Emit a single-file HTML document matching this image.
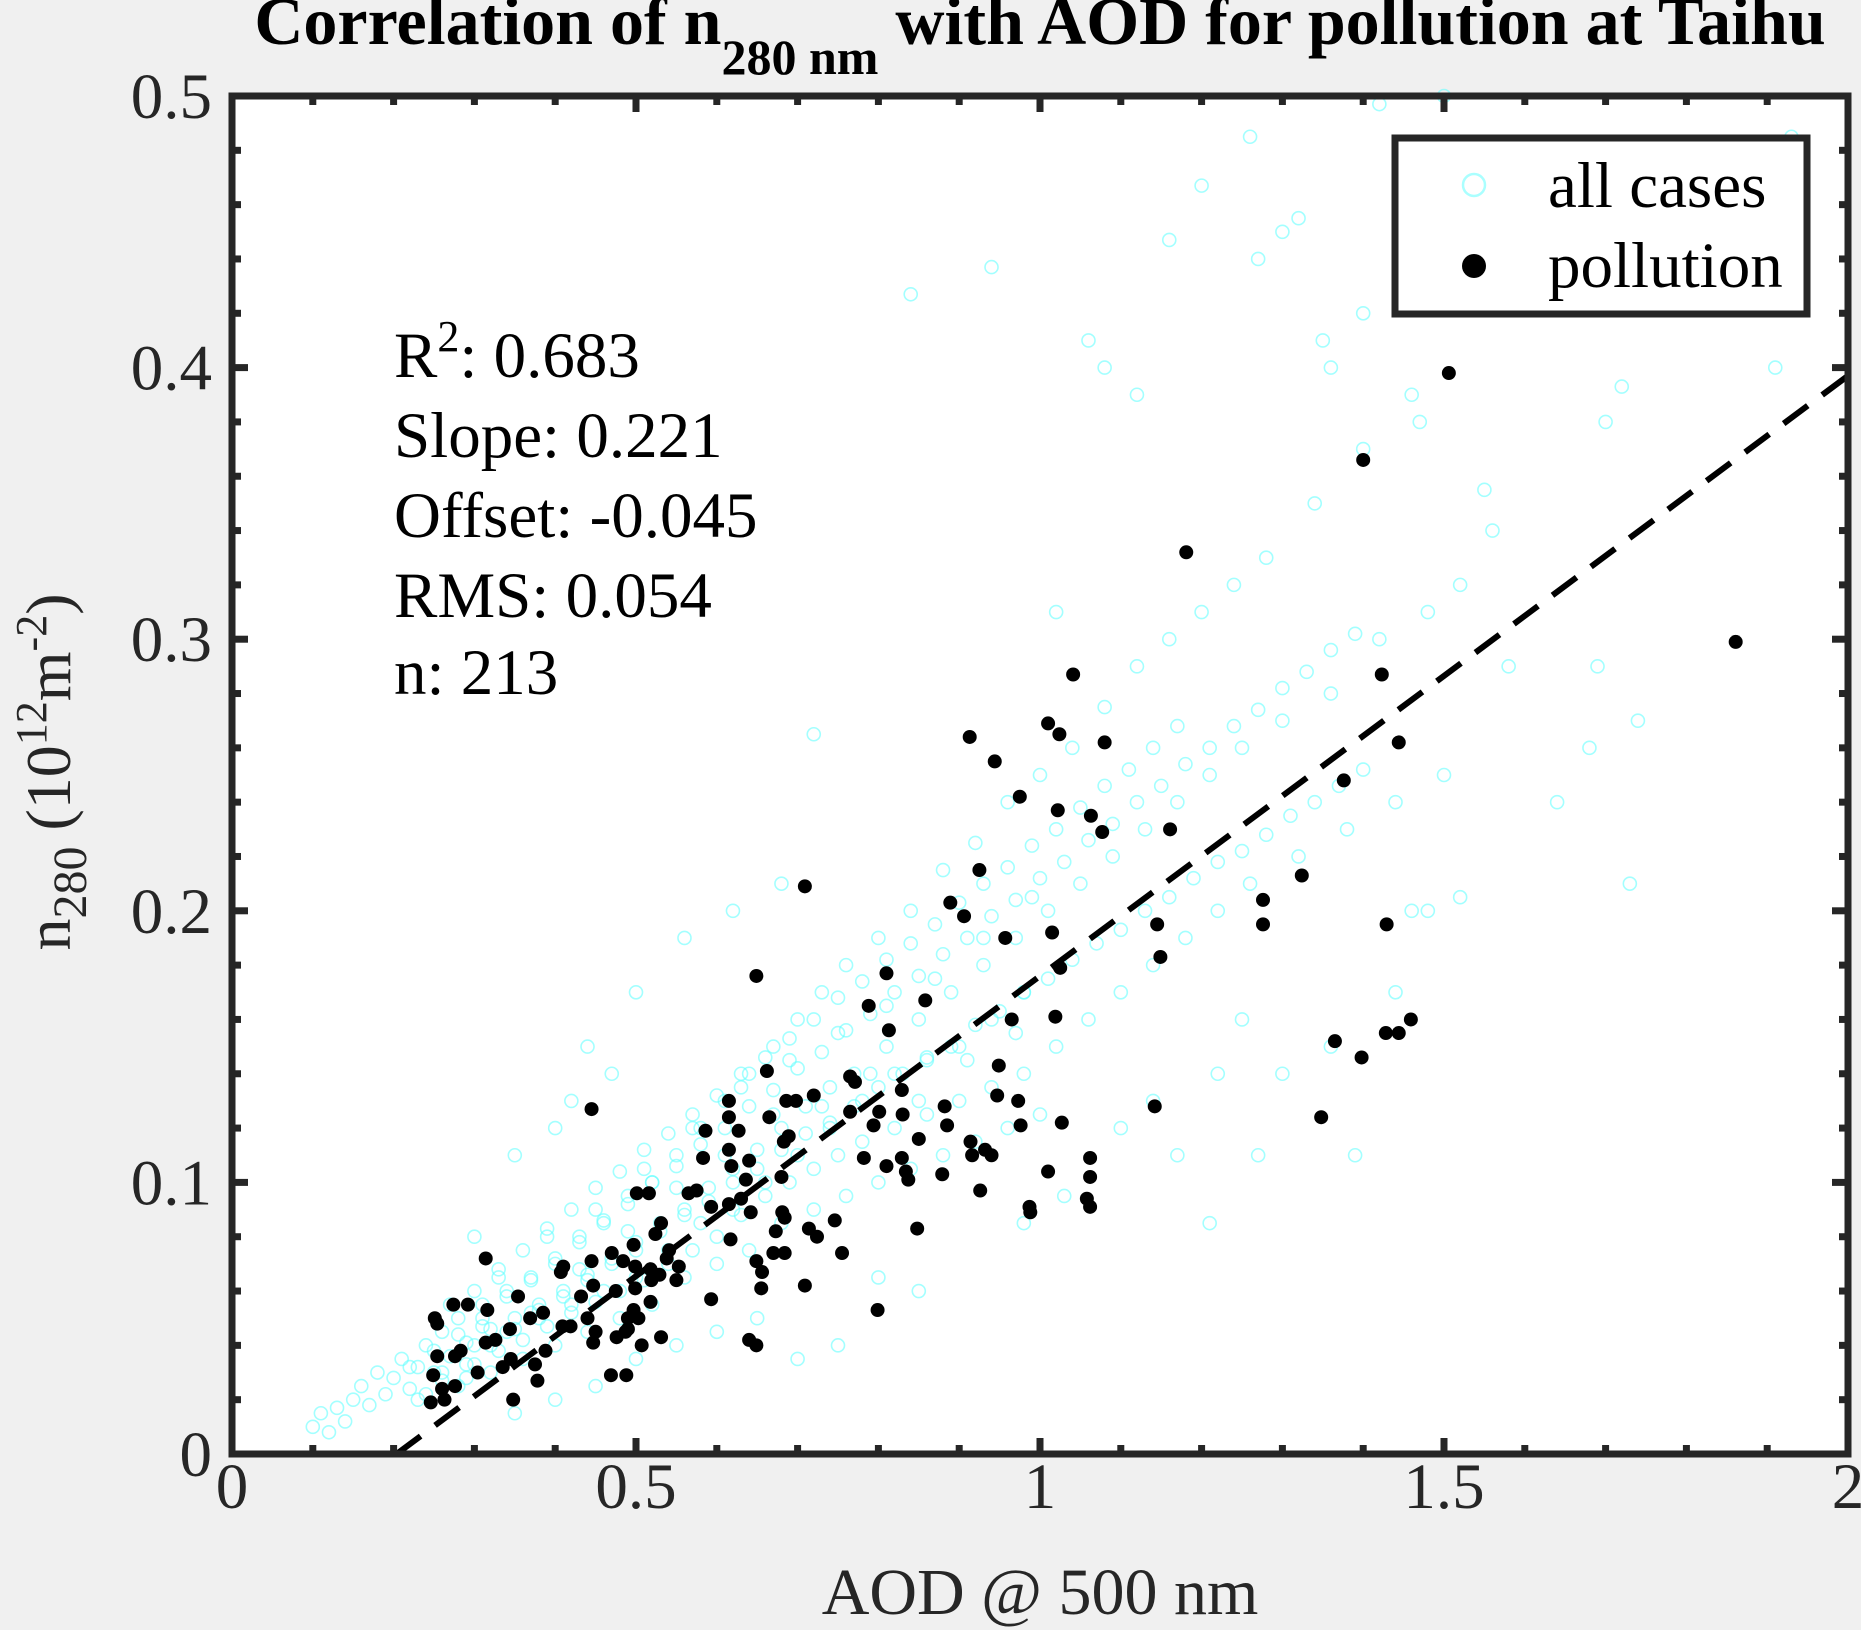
<!DOCTYPE html>
<html><head><meta charset="utf-8"><style>
html,body{margin:0;padding:0;background:#f0f0f0;}
svg{display:block;font-family:"Liberation Serif",serif;}
</style></head><body>
<svg id="chart" width="1861" height="1630" viewBox="0 0 1861 1630">
<rect x="232" y="96" width="1616" height="1358" fill="#fff"/>
<g id="cyan"></g>
<g id="black"></g>
<g id="fit"></g>
<g id="axes"></g>
<text x="1040" y="44" text-anchor="middle" font-size="68" font-weight="bold" fill="#000">Correlation of n<tspan font-size="50" dy="30">280 nm</tspan><tspan dy="-30"> with AOD for pollution at Taihu</tspan></text>
<text x="1040" y="1614" text-anchor="middle" font-size="66" fill="#262626">AOD @ 500 nm</text>
<text transform="translate(70,772) rotate(-90)" text-anchor="middle" font-size="64" fill="#262626">n<tspan font-size="48" dy="16">280</tspan><tspan dy="-16"> (10</tspan><tspan font-size="44" dy="-24">12</tspan><tspan dy="24">m</tspan><tspan font-size="44" dy="-24">-2</tspan><tspan dy="24">)</tspan></text>
<g font-size="65" fill="#000">
<text x="394" y="377">R<tspan font-size="44" dy="-26">2</tspan><tspan dy="26">: 0.683</tspan></text>
<text x="394" y="457">Slope: 0.221</text>
<text x="394" y="537">Offset: -0.045</text>
<text x="394" y="617">RMS: 0.054</text>
<text x="394" y="694">n:  213</text>
</g>
<g>
<rect x="1395" y="138" width="412" height="176" fill="#fff" stroke="#262626" stroke-width="7"/>
<circle cx="1474" cy="185" r="11" fill="none" stroke="#aff" stroke-width="2.5"/>
<text x="1548" y="207" font-size="65" fill="#000">all cases</text>
<circle cx="1474" cy="266" r="12" fill="#000"/>
<text x="1548" y="287" font-size="65" fill="#000">pollution</text>
</g>
</svg>
<script>
const pollX=[1.465,1.506,1.40,1.861,1.181,1.423,1.041,0.913,1.010,1.024,1.080,1.444,0.944,1.376,0.975,1.022,1.063,1.077,1.161,0.709,0.925,1.324,0.889,0.906,1.276,1.276,1.015,0.957,1.145,1.429,1.149,0.810,0.649,1.025,0.858,0.788,1.019,0.965,1.459,1.444,1.428,0.813,1.365,1.398,0.662,0.949,0.765,0.771,0.615,0.720,0.686,0.698,0.829,0.947,0.882,1.142,0.445,0.973,0.765,0.801,0.830,1.348,0.665,0.615,1.027,0.794,0.885,0.976,0.586,0.627,0.689,0.683,0.615,0.850,0.914,0.932,0.583,0.782,0.829,0.916,0.940,1.062,0.810,0.640,0.618,0.680,0.636,1.062,1.010,0.837,0.879,0.834,0.565,0.575,0.501,0.516,0.926,1.058,1.062,0.988,0.987,0.593,0.615,0.630,0.642,0.681,0.684,0.746,0.848,0.714,0.673,0.724,0.531,0.524,0.617,0.497,0.541,0.538,0.755,0.670,0.649,0.684,0.656,0.709,0.655,0.470,0.445,0.484,0.314,0.410,0.407,0.499,0.518,0.529,0.553,0.519,0.550,0.447,0.475,0.499,0.432,0.354,0.292,0.274,0.316,0.385,0.518,0.593,0.497,0.490,0.440,0.503,0.409,0.419,0.490,0.487,0.476,0.450,0.251,0.254,0.344,0.369,0.799,0.531,0.507,0.447,0.640,0.649,0.388,0.314,0.326,0.276,0.345,0.254,0.283,0.304,0.335,0.375,0.378,0.469,0.488,0.249,0.260,0.276,0.263,0.246,0.348];
const pollY=[0.474,0.398,0.366,0.299,0.332,0.287,0.287,0.264,0.269,0.265,0.262,0.262,0.255,0.248,0.242,0.237,0.235,0.229,0.230,0.209,0.215,0.213,0.203,0.198,0.204,0.195,0.192,0.190,0.195,0.195,0.183,0.177,0.176,0.179,0.167,0.165,0.161,0.160,0.160,0.155,0.155,0.156,0.152,0.146,0.141,0.143,0.139,0.137,0.130,0.132,0.130,0.130,0.134,0.132,0.128,0.128,0.127,0.130,0.126,0.126,0.125,0.124,0.124,0.124,0.122,0.121,0.121,0.121,0.119,0.119,0.117,0.115,0.112,0.116,0.115,0.112,0.109,0.109,0.109,0.110,0.110,0.109,0.106,0.108,0.106,0.102,0.101,0.102,0.104,0.101,0.103,0.104,0.096,0.097,0.096,0.096,0.097,0.094,0.091,0.089,0.091,0.091,0.092,0.094,0.089,0.089,0.087,0.086,0.083,0.083,0.082,0.080,0.085,0.081,0.079,0.077,0.075,0.072,0.074,0.074,0.071,0.074,0.067,0.062,0.061,0.074,0.071,0.071,0.072,0.069,0.067,0.069,0.068,0.066,0.069,0.064,0.064,0.062,0.060,0.061,0.058,0.058,0.055,0.055,0.053,0.052,0.056,0.057,0.053,0.050,0.050,0.050,0.047,0.047,0.046,0.045,0.043,0.045,0.050,0.048,0.046,0.050,0.053,0.043,0.040,0.041,0.042,0.040,0.038,0.041,0.042,0.036,0.035,0.036,0.038,0.030,0.032,0.033,0.027,0.029,0.029,0.029,0.024,0.025,0.020,0.019,0.020];
const allX=[0.10,0.11,0.12,0.13,0.14,0.15,0.16,0.17,0.18,0.19,0.20,0.21,0.22,0.23,0.24,0.25,0.26,0.27,0.28,0.29,0.30,0.31,0.32,0.33,0.34,0.35,0.36,0.37,0.38,0.39,0.40,0.41,0.42,0.43,0.44,0.45,0.46,0.47,0.48,0.49,0.50,0.51,0.52,0.53,0.54,0.55,0.56,0.57,0.58,0.59,0.60,0.61,0.62,0.63,0.64,0.65,0.66,0.67,0.68,0.69,0.70,0.71,0.72,0.73,0.74,0.75,0.76,0.77,0.78,0.80,0.81,0.82,0.84,0.85,0.86,0.88,0.89,0.90,0.92,0.93,0.94,0.96,0.97,0.98,1.00,1.01,1.02,1.04,1.05,1.06,1.08,1.09,1.10,1.12,1.13,1.14,1.16,1.17,1.18,1.20,1.21,1.22,1.24,1.25,1.26,1.28,1.30,1.32,1.34,1.36,1.38,1.40,1.42,1.44,1.46,1.48,1.50,
1.20,1.26,1.42,1.50,1.93,1.91,1.72,1.70,0.94,0.84,1.16,1.32,1.30,1.27,1.35,1.40,1.06,1.12,1.08,1.02,1.64,1.69,1.73,1.74,1.68,1.58,1.56,1.55,1.47,1.52,1.36,0.72,0.62,0.68,0.56,0.50,0.42,0.40,0.35,0.30,0.44,0.47,1.21,1.17,1.27,1.39,1.36,1.44,1.46,1.48,1.52,1.22,1.25,1.30,1.14,1.10,0.98,1.03,0.85,0.80,0.75,0.70,0.65,0.60,0.55,0.50,0.45,0.40,0.35,
0.26,0.28,0.30,0.32,0.34,0.36,0.38,0.40,0.42,0.44,0.46,0.48,0.50,0.52,0.54,0.56,0.58,0.60,0.62,0.64,0.66,0.68,0.70,0.72,0.74,0.76,0.78,0.80,0.82,0.84,0.86,0.88,0.90,0.92,0.94,0.96,0.98,1.00,0.27,0.33,0.39,0.45,0.51,0.57,0.63,0.69,0.75,0.81,0.87,0.93,0.99,0.24,0.29,0.31,0.37,0.43,0.49,0.55,0.61,0.67,0.73,0.79,0.85,0.91,0.97,
0.22,0.25,0.28,0.31,0.34,0.37,0.40,0.43,0.46,0.49,0.52,0.55,0.58,0.61,0.64,0.67,0.70,0.73,0.76,0.79,0.82,0.85,0.88,0.91,0.94,0.97,1.00,1.03,1.06,1.09,1.12,1.15,1.18,1.21,1.24,1.27,1.30,1.33,1.36,1.39,
0.23,0.26,0.29,0.32,0.35,0.38,0.41,0.44,0.47,0.50,0.53,0.56,0.59,0.62,0.65,0.68,0.71,0.74,0.77,0.80,0.83,0.86,0.89,0.92,0.95,0.98,1.01,1.04,1.07,1.10,1.13,1.16,1.19,1.22,1.25,1.28,1.31,1.34,1.37,1.40,
0.30,0.33,0.36,0.39,0.42,0.45,0.48,0.51,0.54,0.57,0.60,0.63,0.66,0.69,0.72,0.75,0.78,0.81,0.84,0.87,0.90,0.93,0.96,0.99,1.02,1.05,1.08,1.11,1.14,1.17];
const allY=[0.010,0.015,0.008,0.017,0.012,0.020,0.025,0.018,0.030,0.022,0.028,0.035,0.024,0.032,0.040,0.030,0.045,0.036,0.050,0.041,0.033,0.055,0.046,0.038,0.060,0.050,0.042,0.065,0.055,0.047,0.070,0.060,0.052,0.080,0.066,0.056,0.085,0.072,0.060,0.095,0.078,0.064,0.100,0.085,0.070,0.110,0.090,0.075,0.120,0.098,0.080,0.130,0.105,0.088,0.140,0.112,0.095,0.150,0.120,0.100,0.160,0.128,0.105,0.170,0.135,0.110,0.180,0.140,0.115,0.190,0.150,0.120,0.200,0.160,0.125,0.215,0.170,0.130,0.225,0.180,0.135,0.240,0.190,0.140,0.250,0.200,0.150,0.260,0.210,0.160,0.275,0.220,0.170,0.290,0.230,0.180,0.300,0.240,0.190,0.310,0.250,0.200,0.320,0.260,0.210,0.330,0.270,0.220,0.350,0.280,0.230,0.370,0.300,0.240,0.390,0.310,0.250,
0.467,0.485,0.497,0.500,0.485,0.400,0.393,0.380,0.437,0.427,0.447,0.455,0.450,0.440,0.410,0.420,0.410,0.390,0.400,0.310,0.240,0.290,0.210,0.270,0.260,0.290,0.340,0.355,0.380,0.320,0.400,0.265,0.200,0.210,0.190,0.170,0.130,0.120,0.110,0.080,0.150,0.140,0.085,0.110,0.110,0.110,0.150,0.170,0.200,0.200,0.205,0.140,0.160,0.140,0.130,0.120,0.085,0.095,0.060,0.065,0.040,0.035,0.050,0.045,0.040,0.035,0.025,0.020,0.015,
0.030,0.025,0.040,0.030,0.045,0.035,0.050,0.040,0.055,0.045,0.060,0.050,0.065,0.055,0.075,0.065,0.085,0.070,0.090,0.075,0.100,0.085,0.110,0.090,0.120,0.095,0.130,0.100,0.140,0.105,0.145,0.110,0.150,0.115,0.160,0.120,0.170,0.125,0.055,0.065,0.080,0.090,0.105,0.120,0.135,0.145,0.155,0.165,0.175,0.190,0.205,0.022,0.028,0.047,0.052,0.068,0.082,0.098,0.110,0.125,0.128,0.140,0.130,0.145,0.155,
0.032,0.038,0.044,0.050,0.058,0.064,0.072,0.078,0.086,0.092,0.100,0.106,0.114,0.120,0.128,0.134,0.142,0.148,0.156,0.162,0.170,0.176,0.184,0.190,0.198,0.204,0.212,0.218,0.226,0.232,0.240,0.246,0.254,0.260,0.268,0.274,0.282,0.288,0.296,0.302,
0.020,0.027,0.033,0.040,0.046,0.053,0.058,0.064,0.070,0.075,0.082,0.088,0.093,0.100,0.105,0.112,0.118,0.122,0.128,0.135,0.140,0.146,0.150,0.158,0.163,0.170,0.175,0.182,0.188,0.193,0.200,0.205,0.212,0.218,0.222,0.228,0.235,0.240,0.246,0.252,
0.060,0.068,0.075,0.083,0.090,0.098,0.104,0.112,0.118,0.125,0.132,0.140,0.146,0.153,0.160,0.168,0.174,0.182,0.188,0.195,0.203,0.210,0.216,0.224,0.230,0.238,0.246,0.252,0.260,0.268];
const fitSlope=0.221, fitOffset=-0.045;
const xTickLabels=["0","0.5","1","1.5","2"];
const yTickLabels=["0","0.1","0.2","0.3","0.4","0.5"];

const NS="http://www.w3.org/2000/svg";
const L=232,R=1848,T=96,B=1454;
const sx=v=>L+v/2*(R-L);
const sy=v=>B-v/0.5*(B-T);
function mk(tag,attrs,parent){const e=document.createElementNS(NS,tag);for(const k in attrs)e.setAttribute(k,attrs[k]);parent.appendChild(e);return e;}
const gc=document.getElementById('cyan');
for(let i=0;i<allX.length;i++){
  const c=mk('circle',{cx:sx(allX[i]),cy:sy(allY[i]),r:6.5,fill:'none',stroke:'#6ff','stroke-width':1.6,'stroke-opacity':0.6},gc);
  
  
}
const gb=document.getElementById('black');
for(let i=0;i<pollX.length;i++){
  const c=mk('circle',{cx:sx(pollX[i]),cy:sy(pollY[i]),r:7,fill:'#000'},gb);
  
  
}
const x0=-fitOffset/fitSlope;
const fl=mk('line',{x1:sx(x0),y1:sy(0),x2:sx(2),y2:sy(fitSlope*2+fitOffset),stroke:'#000','stroke-width':6,'stroke-dasharray':'30 18'},document.getElementById('fit'));


const ga=document.getElementById('axes');
const st={stroke:'#262626','stroke-width':7};
for(let i=0;i<=20;i++){
  const v=i*0.1,x=sx(v),len=(i%5===0)?16:9;
  const t1=mk('line',Object.assign({x1:x,y1:B,x2:x,y2:B-len},st),ga);
  
  
  const t2=mk('line',Object.assign({x1:x,y1:T,x2:x,y2:T+len},st),ga);
  
  
}
for(let i=0;i<=25;i++){
  const v=i*0.02,y=sy(v),len=(i%5===0)?16:9;
  const t1=mk('line',Object.assign({x1:L,y1:y,x2:L+len,y2:y},st),ga);
  
  
  const t2=mk('line',Object.assign({x1:R,y1:y,x2:R-len,y2:y},st),ga);
  
  
}
const fr=mk('rect',{x:L,y:T,width:R-L,height:B-T,fill:'none',stroke:'#262626','stroke-width':7},ga);


xTickLabels.forEach((s,i)=>{
  const t=mk('text',{x:sx(i*0.5),y:1508,'text-anchor':'middle','font-size':65,fill:'#262626'},ga);
  t.textContent=s;
  
  
});
yTickLabels.forEach((s,i)=>{
  const t=mk('text',{x:212,y:sy(i*0.1)+22,'text-anchor':'end','font-size':65,fill:'#262626'},ga);
  t.textContent=s;
  
  
});
</script>
</body></html>
